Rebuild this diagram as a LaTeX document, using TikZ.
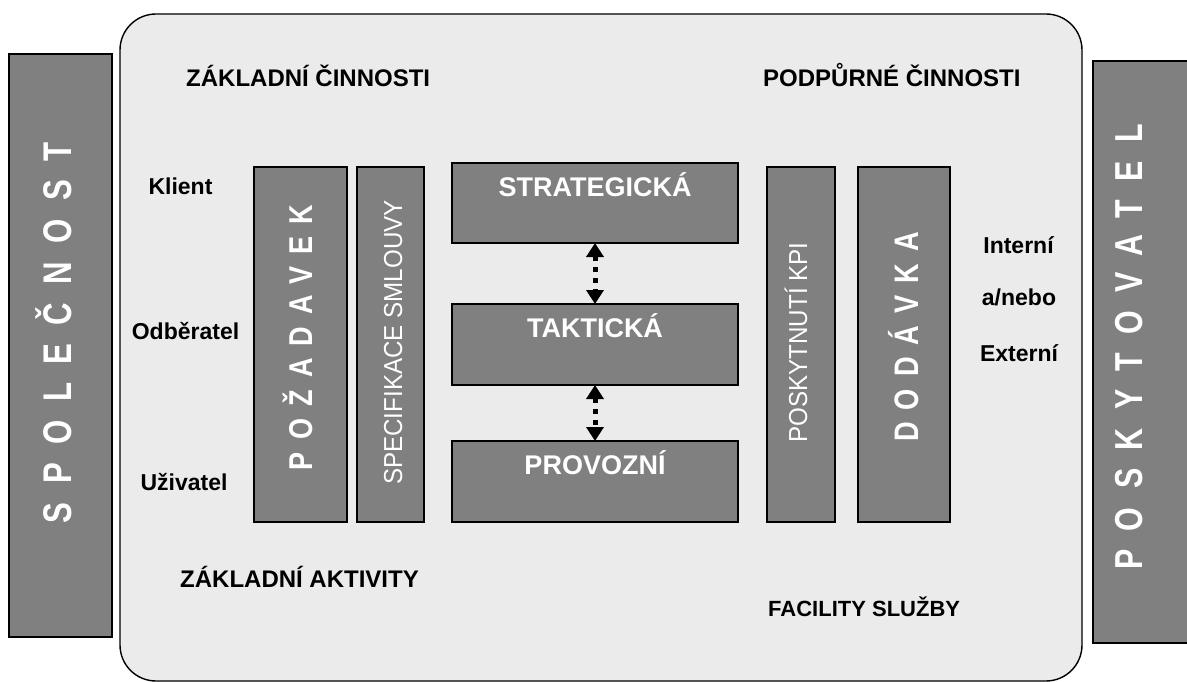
\documentclass[tikz,border=0pt]{standalone}
\usepackage{fontspec}
\setmainfont{Liberation Sans}
\usetikzlibrary{arrows.meta}
\definecolor{panelgray}{RGB}{235,235,235}
\definecolor{boxgray}{RGB}{128,128,128}

\begin{document}
\begin{tikzpicture}[x=1pt,y=-1pt,
  panel/.style={draw=black,line width=1.4pt,fill=panelgray,rounded corners=36pt,inner sep=0pt,outer sep=0pt,anchor=north west},
  graybox/.style={draw=black,line width=1.6pt,fill=boxgray,inner sep=0pt,outer sep=0pt,anchor=north west},
  heading/.style={inner sep=0pt,anchor=base west,font=\bfseries\fontsize{24}{28}\selectfont},
  sidelabel/.style={inner sep=0pt,anchor=base,font=\bfseries\fontsize{23}{27}\selectfont},
  leveltext/.style={inner sep=0pt,anchor=base,text=white,font=\bfseries\fontsize{27}{32}\selectfont},
  vertlabel/.style={inner sep=0pt,anchor=base,rotate=90,text=white},
  levelarrow/.style={line width=5pt,dash pattern=on 5pt off 6pt,{Triangle[length=14pt,width=17pt]}-{Triangle[length=14pt,width=17pt]}}]
\path[use as bounding box] (0,0) rectangle (1187,682);
\path[fill=white] (0,0) rectangle (1187,682);
% panel
\node[panel,minimum width=962,minimum height=667] (panel) at (120,14) {};
% outer parties
\node[graybox,minimum width=103,minimum height=583] (spolecnost) at (9,54) {};
\node[graybox,minimum width=110,minimum height=582] (poskytovatel) at (1093,61) {};
\node[vertlabel,font=\bfseries\fontsize{40}{48}\selectfont\addfontfeatures{FakeStretch=0.78,LetterSpace=46}] (spolecnost-text) at (71,342) {SPOLEČNOST\kern-18.4pt};
\node[vertlabel,font=\bfseries\fontsize{39}{47}\selectfont\addfontfeatures{FakeStretch=0.78,LetterSpace=47.2}] (poskytovatel-text) at (1142,356) {POSKYTOVATEL\kern-18.4pt};
% columns
\node[graybox,minimum width=93,minimum height=355] (pozadavek) at (254,167) {};
\node[graybox,minimum width=67,minimum height=355] (specifikace) at (357,167) {};
\node[graybox,minimum width=68,minimum height=355] (kpi) at (767,167) {};
\node[graybox,minimum width=92,minimum height=355] (dodavka) at (858,167) {};
\node[vertlabel,font=\bfseries\fontsize{33}{40}\selectfont\addfontfeatures{FakeStretch=0.82,LetterSpace=37}] (pozadavek-text) at (312,343.5) {POŽADAVEK\kern-12.2pt};
\node[vertlabel,font=\fontsize{26}{31}\selectfont\addfontfeatures{FakeStretch=0.93}] (specifikace-text) at (402,342.5) {SPECIFIKACE SMLOUVY};
\node[vertlabel,font=\fontsize{26}{31}\selectfont\addfontfeatures{FakeStretch=0.93}] (kpi-text) at (807,342.5) {POSKYTNUTÍ KPI};
\node[vertlabel,font=\bfseries\fontsize{34}{41}\selectfont\addfontfeatures{FakeStretch=0.8,LetterSpace=35.5}] (dodavka-text) at (918,343) {DODÁVKA\kern-12.1pt};
% levels
\node[graybox,minimum width=286,minimum height=80] (strategicka) at (452,163) {};
\node[graybox,minimum width=286,minimum height=81] (takticka) at (452,304) {};
\node[graybox,minimum width=286,minimum height=81] (provozni) at (452,441) {};
\node[leveltext] (strategicka-text) at (595,196.7) {STRATEGICKÁ};
\node[leveltext] (takticka-text) at (595,337) {TAKTICKÁ};
\node[leveltext] (provozni-text) at (595,474) {PROVOZNÍ};
\draw[levelarrow] (strategicka.south) -- (takticka.north);
\draw[levelarrow] (takticka.south) -- (provozni.north);
% headings
\node[heading] (zakladni-cinnosti) at (186,87) {ZÁKLADNÍ ČINNOSTI};
\node[heading] (podpurne-cinnosti) at (763,87) {PODPŮRNÉ ČINNOSTI};
\node[heading] (zakladni-aktivity) at (180,587) {ZÁKLADNÍ AKTIVITY};
\node[heading,font=\bfseries\fontsize{22}{26}\selectfont] (facility) at (768,616) {FACILITY SLUŽBY};
% side labels
\node[sidelabel] (klient) at (180.5,194) {Klient};
\node[sidelabel] (odberatel) at (185.5,339) {Odběratel};
\node[sidelabel] (uzivatel) at (184,490) {Uživatel};
\node[sidelabel] (interni) at (1018.5,253) {Interní};
\node[sidelabel] (anebo) at (1019,305) {a/nebo};
\node[sidelabel] (externi) at (1019,361) {Externí};
\end{tikzpicture}
\end{document}
